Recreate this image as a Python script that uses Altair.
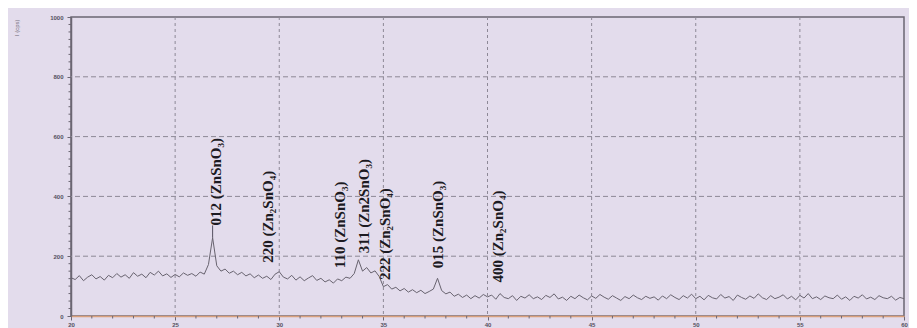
import altair as alt
import numpy as np
import pandas as pd

# 2-theta grid (degrees) and intensity (cps)
two_theta = np.round(np.arange(20.0, 60.0001, 0.2), 1)
intensity = [
    128, 122, 135, 118, 130, 138, 124, 132, 120, 136,
    128, 142, 130, 138, 126, 145, 133, 140, 128, 146,
    137, 150, 134, 141, 129, 139, 131, 144, 136, 142,
    133, 147, 140, 172, 262, 168, 150, 157, 143, 150,
    138, 146, 134, 141, 128, 137, 126, 133, 122, 140,
    148, 130, 124, 136, 120, 131, 118, 127, 135, 119,
    126, 114, 121, 110, 124, 118, 130, 126, 142, 188,
    150, 162, 144, 151, 132, 98, 105, 90, 96, 84,
    92, 80, 88, 78, 86, 75, 82, 90, 126, 85,
    74, 80, 66, 73, 62, 70, 58, 68, 60, 72,
    64, 70, 56, 75, 62, 58, 68, 52, 66, 60,
    71, 58, 64, 55, 69, 62, 74, 57, 63, 52,
    66, 58, 70, 61, 54, 67, 59, 72, 63, 56,
    68, 60, 52, 65, 58, 70, 61, 55, 66, 59,
    64, 53, 67, 58, 71, 62, 55, 68, 60, 73,
    58, 66, 54, 69, 61, 57, 72, 60, 65, 52,
    70, 62, 56, 67, 59, 74, 61, 55, 68, 58,
    63, 71, 57, 66, 54, 69, 60, 75, 58, 64,
    55, 67, 61, 58, 70, 56, 64, 52, 66, 60,
    71, 57, 63, 55, 68, 61, 58, 66, 53, 62,
    58,
]

# peak annotations
label_text = [
    "012 (ZnSnO\u2083)",
    "220 (Zn\u2082SnO\u2084)",
    "110 (ZnSnO\u2083)",
    "311 (Zn2SnO\u2083)",
    "222 (Zn\u2082SnO\u2084)",
    "015 (ZnSnO\u2083)",
    "400 (Zn\u2082SnO\u2084)",
]
label_x = [26.95, 29.45, 32.93, 34.05, 35.1, 37.64, 40.52]
label_y = [303, 178, 160, 210, 120, 160, 112]

# leader line for the 012 reflection
leader_x = [26.8]
leader_from = [262]
leader_to = [303]

x_major = [20, 25, 30, 35, 40, 45, 50, 55, 60]
y_major = [0, 200, 400, 600, 800, 1000]
x_minor = [v for v in range(21, 60) if v % 5 != 0]
y_minor = [v for v in range(25, 1000, 25) if v % 200 != 0]
grid_x = [25, 30, 35, 40, 45, 50, 55]
grid_y = [200, 400, 600, 800]

scan = pd.DataFrame({"tt": two_theta, "I": intensity})
labels = pd.DataFrame({"t": label_text, "x": label_x, "y": label_y})
leaders = pd.DataFrame({"x": leader_x, "y": leader_from, "y2": leader_to})
gx = pd.DataFrame({"x": grid_x})
gy = pd.DataFrame({"y": grid_y})
mx = pd.DataFrame({"x": x_minor})
my = pd.DataFrame({"y": y_minor})

xscale = alt.Scale(domain=[20, 60], nice=False, zero=False)
yscale = alt.Scale(domain=[0, 1000], nice=False)

xaxis = alt.Axis(
    values=x_major,
    labelOverlap=False,
    grid=False,
    tickSize=4,
    tickColor="#6b6672",
    domainColor="#d9a07c",
    domainWidth=1.5,
    labelFontSize=6,
    labelFontWeight="bold",
    labelColor="#555060",
    labelPadding=1,
    labelFlush=False,
    title=None,
)

yaxis = alt.Axis(
    values=y_major,
    format="d",
    labelOverlap=False,
    grid=False,
    tickSize=4,
    tickColor="#6b6672",
    domainColor="#6b6672",
    domainWidth=1.5,
    labelFontSize=6,
    labelFontWeight="bold",
    labelColor="#555060",
    labelPadding=4,
    labelFlush=False,
    title="I (cps)",
    titleFontSize=6,
    titleColor="#777280",
    titleFontWeight="normal",
    titleAnchor="end",
    titleX=-52,
    titleY=2,
)

vgrid = alt.Chart(gx).mark_rule(color="#8d8896", strokeWidth=1, strokeDash=[3, 3]).encode(
    x=alt.X("x:Q", scale=xscale, axis=xaxis),
)
hgrid = alt.Chart(gy).mark_rule(color="#8d8896", strokeWidth=1, strokeDash=[5, 3]).encode(
    y=alt.Y("y:Q", scale=yscale, axis=yaxis),
)
xminor = alt.Chart(mx).mark_rule(color="#6b6672", strokeWidth=1).encode(
    x=alt.X("x:Q", scale=xscale, axis=xaxis),
    y=alt.value(299),
    y2=alt.value(301.5),
)
yminor = alt.Chart(my).mark_rule(color="#6b6672", strokeWidth=1).encode(
    y=alt.Y("y:Q", scale=yscale, axis=yaxis),
    x=alt.value(-2.5),
    x2=alt.value(0),
)

line = alt.Chart(scan).mark_line(color="#68636f", strokeWidth=1).encode(
    x=alt.X("tt:Q", scale=xscale, axis=xaxis),
    y=alt.Y("I:Q", scale=yscale, axis=yaxis),
)

lead = alt.Chart(leaders).mark_rule(color="#555060", strokeWidth=1).encode(
    x=alt.X("x:Q", scale=xscale),
    y=alt.Y("y:Q", scale=yscale),
    y2="y2:Q",
)

text = alt.Chart(labels).mark_text(
    angle=270,
    align="left",
    baseline="middle",
    font="Liberation Serif",
    fontWeight="bold",
    fontSize=15,
    color="#1c1a22",
).encode(
    x=alt.X("x:Q", scale=xscale),
    y=alt.Y("y:Q", scale=yscale),
    text="t:N",
)

chart = (
    alt.layer(vgrid, hgrid, xminor, yminor, line, lead, text)
    .properties(
        width=833,
        height=299,
        autosize=alt.AutoSizeParams(type="none"),
        padding={"left": 63, "top": 9, "right": 5, "bottom": 12},
        background="#e3dcec",
    )
    .configure_view(fill="#e3dcec", stroke="#6b6672", strokeWidth=1.5)
)

chart.save("out.html", embed_options={"renderer": "svg", "actions": False})
